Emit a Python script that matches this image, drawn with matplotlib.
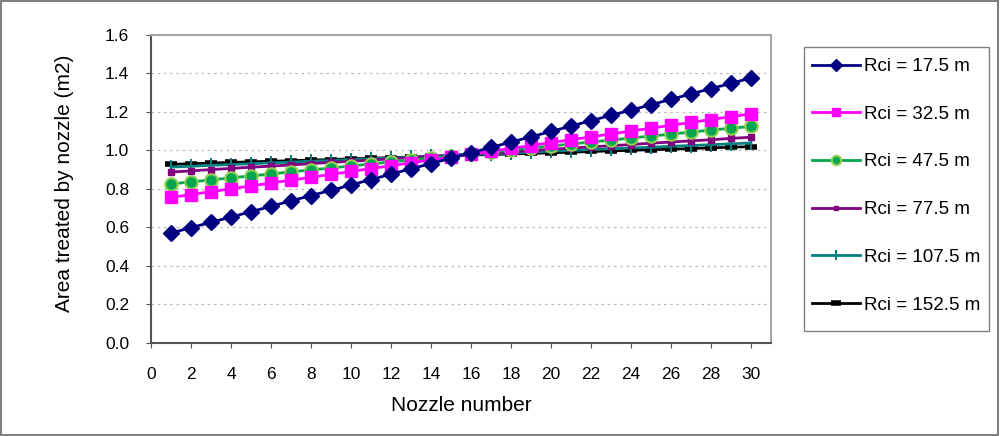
import matplotlib
matplotlib.use('Agg')
import matplotlib.pyplot as plt
from matplotlib.patches import Rectangle

plt.rcParams['font.family'] = ['Liberation Sans', 'DejaVu Sans']

nozzles = list(range(1, 31))

rci_17_5 = [0.570, 0.598, 0.626, 0.653, 0.681, 0.709, 0.737, 0.765, 0.792, 0.820,
            0.848, 0.876, 0.904, 0.931, 0.959, 0.987, 1.015, 1.043, 1.070, 1.098,
            1.126, 1.154, 1.182, 1.209, 1.237, 1.265, 1.293, 1.321, 1.348, 1.376]
rci_32_5 = [0.755, 0.770, 0.785, 0.800, 0.815, 0.830, 0.845, 0.860, 0.875, 0.890,
            0.905, 0.920, 0.935, 0.950, 0.965, 0.980, 0.995, 1.010, 1.025, 1.040,
            1.055, 1.070, 1.085, 1.100, 1.115, 1.130, 1.145, 1.160, 1.175, 1.190]
rci_47_5 = [0.825, 0.836, 0.846, 0.857, 0.867, 0.877, 0.888, 0.898, 0.908, 0.919,
            0.929, 0.940, 0.950, 0.960, 0.971, 0.981, 0.991, 1.002, 1.012, 1.022,
            1.033, 1.043, 1.053, 1.064, 1.074, 1.084, 1.095, 1.105, 1.115, 1.124]
rci_77_5 = [0.887, 0.893, 0.900, 0.906, 0.912, 0.918, 0.924, 0.931, 0.937, 0.943,
            0.949, 0.956, 0.962, 0.968, 0.974, 0.981, 0.987, 0.993, 0.999, 1.005,
            1.012, 1.018, 1.024, 1.030, 1.037, 1.043, 1.049, 1.055, 1.062, 1.068]
rci_107_5 = [0.913, 0.917, 0.922, 0.926, 0.930, 0.935, 0.939, 0.943, 0.947, 0.952,
             0.956, 0.960, 0.965, 0.969, 0.973, 0.978, 0.982, 0.986, 0.991, 0.995,
             0.999, 1.004, 1.008, 1.012, 1.016, 1.021, 1.025, 1.029, 1.034, 1.038]
rci_152_5 = [0.927, 0.930, 0.934, 0.937, 0.940, 0.943, 0.946, 0.949, 0.952, 0.956,
             0.959, 0.962, 0.965, 0.968, 0.971, 0.975, 0.978, 0.981, 0.984, 0.987,
             0.990, 0.994, 0.997, 1.000, 1.003, 1.006, 1.009, 1.013, 1.016, 1.019]

labels = ['Rci = 17.5 m', 'Rci = 32.5 m', 'Rci = 47.5 m',
          'Rci = 77.5 m', 'Rci = 107.5 m', 'Rci = 152.5 m']

fig = plt.figure(figsize=(10, 4.36), dpi=100)
ax = fig.add_axes([0.151, 0.214, 0.620, 0.706])

# series styles, drawn back to front like the original
ax.plot(nozzles, rci_152_5, color='black', lw=2, marker='_', ms=9, mew=4,
        label=labels[5], zorder=3)
ax.plot(nozzles, rci_107_5, color='#008080', lw=2, marker='|', ms=10, mew=1.5,
        label=labels[4], zorder=3)
ax.plot(nozzles, rci_77_5, color='#800080', lw=2, marker='s', ms=4,
        label=labels[3], zorder=3)
ax.plot(nozzles, rci_47_5, color='#00A650', lw=2, marker='o', ms=9,
        mfc='#00A650', mec='#92D050', mew=1.5, label=labels[2], zorder=3)
ax.plot(nozzles, rci_32_5, color='#FF00FF', lw=2, marker='s', ms=8,
        label=labels[1], zorder=3)
ax.plot(nozzles, rci_17_5, color='#000080', lw=2, marker='D', ms=8,
        label=labels[0], zorder=3)

ax.set_xlim(0, 31)
ax.set_ylim(0, 1.6)
ax.set_xticks(range(0, 31, 2))
ax.set_yticks([i * 0.2 for i in range(9)])
ax.set_yticklabels(['%.1f' % (i * 0.2) for i in range(9)])
ax.tick_params(labelsize=12.5, length=3.6, color='#555555', pad=12)
ax.tick_params(axis='x', pad=14)
ax.yaxis.grid(True, linestyle=(0, (2, 3)), color='#bbbbbb', lw=0.9)
ax.set_axisbelow(True)
for side in ['left', 'bottom']:
    ax.spines[side].set_color('#555555')
    ax.spines[side].set_linewidth(1.5)
for side in ['top', 'right']:
    ax.spines[side].set_color('#a6a6a6')
    ax.spines[side].set_linewidth(1.5)

ax.set_xlabel('Nozzle number', fontsize=15, labelpad=10)
ax.set_ylabel('Area treated by nozzle (m2)', fontsize=15)
ax.yaxis.set_label_coords(-0.124, 0.519)

# legend: drawn without its own frame, box added separately
handles, labs = ax.get_legend_handles_labels()
leg = fig.legend(handles[::-1], labs[::-1], loc='upper left',
                 bbox_to_anchor=(0.812, 1 - 58 / 436), fontsize=13.5,
                 frameon=False, labelspacing=1.63, handlelength=2.56,
                 handletextpad=0.2, borderpad=0, borderaxespad=0,
                 markerscale=0.75)

fig.patches.append(Rectangle((0.804, 1 - 331 / 436), 0.185, 284 / 436,
                             transform=fig.transFigure, fill=False,
                             edgecolor='#808080', lw=1.0))
fig.patches.append(Rectangle((0.001, 0.002), 0.997, 0.996, transform=fig.transFigure,
                             fill=False, edgecolor='#808080', lw=1.5))

fig.savefig('out.png', dpi=100)
